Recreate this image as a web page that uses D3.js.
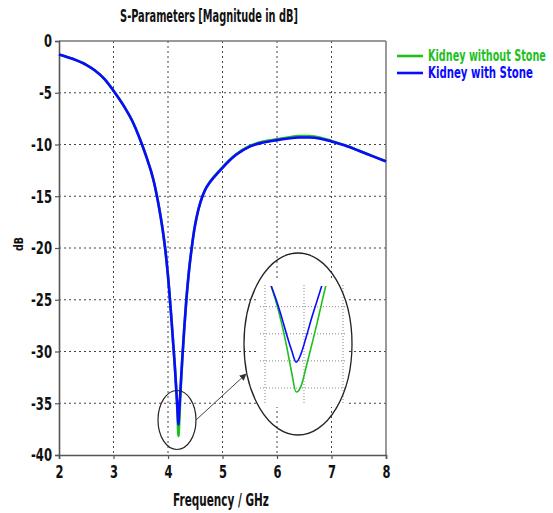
<!DOCTYPE html>
<html>
<head>
<meta charset="utf-8">
<script src="https://cdn.jsdelivr.net/npm/d3@7"></script>
<style>
  html, body { margin: 0; padding: 0; background: #fff; }
  svg { display: block; }
  text { font-family: "Liberation Sans Narrow", "DejaVu Sans Condensed", "Roboto", sans-serif; font-weight: bold; }
</style>
</head>
<body>
<svg id="chart" width="553" height="513"></svg>
<script>
// ---------------- data ----------------
const freq = [2.0, 2.25, 2.5, 2.66, 2.84, 3.0, 3.18, 3.36, 3.45, 3.53, 3.61, 3.69, 3.745, 3.79, 3.84, 3.89, 3.93, 3.97,
  4.0, 4.03, 4.065, 4.095, 4.125,
  4.158, 4.165, 4.172, 4.178, 4.184, 4.19, 4.196, 4.203, 4.21, 4.216, 4.222,
  4.235, 4.265, 4.30, 4.335, 4.385, 4.435, 4.48, 4.53, 4.60, 4.68, 4.77, 4.87, 5.0, 5.12, 5.25, 5.5, 5.75,
  6.0, 6.2, 6.4, 6.6, 6.8, 7.0, 7.25, 7.5, 7.75, 8.0];
const withoutStone = [-1.3, -1.72, -2.3, -2.85, -3.7, -4.8, -6.2, -7.9, -9.0, -10.1, -11.3, -12.6, -13.7, -14.8, -16.2, -17.8, -19.3, -21.1,
  -22.7, -24.6, -27.0, -29.2, -31.4,
  -34.24, -34.9, -35.7, -36.5, -37.4, -38.15, -37.95, -37.2, -36.4, -35.7, -34.95,
  -33.4, -30.6, -27.7, -25.1, -22.2, -20.0, -18.3, -16.9, -15.5, -14.4, -13.6, -12.95, -12.2, -11.55, -10.95, -10.15, -9.72,
  -9.5, -9.32, -9.18, -9.19, -9.35, -9.65, -10.07, -10.58, -11.1, -11.62];
const withStone = [-1.3, -1.72, -2.3, -2.85, -3.7, -4.8, -6.2, -7.9, -9.0, -10.1, -11.3, -12.6, -13.7, -14.8, -16.2, -17.8, -19.3, -21.1,
  -22.7, -24.6, -27.0, -29.2, -31.4,
  -34.24, -34.8, -35.45, -36.05, -36.6, -37.05, -36.75, -36.1, -35.4, -34.85, -34.3,
  -33.1, -30.4, -27.6, -25.1, -22.2, -20.0, -18.3, -16.9, -15.5, -14.4, -13.65, -13.0, -12.25, -11.6, -11.0, -10.2, -9.8,
  -9.58, -9.42, -9.32, -9.33, -9.45, -9.7, -10.1, -10.6, -11.12, -11.63];
const seriesNames = ["Kidney without Stone", "Kidney with Stone"];
const seriesColors = ["#1fbf1f", "#0a0aff"];
const xTicks = [2, 3, 4, 5, 6, 7, 8];
const xTickLabels = ["2", "3", "4", "5", "6", "7", "8"];
const yTicks = [0, -5, -10, -15, -20, -25, -30, -35, -40];
const yTickLabels = ["0", "-5", "-10", "-15", "-20", "-25", "-30", "-35", "-40"];
const insetXTicks = [4.15, 4.2, 4.25];
const insetYTicks = [-35, -36, -37, -38];
const titleText = "S-Parameters [Magnitude in dB]";
const xTitle = "Frequency / GHz";
const yTitle = "dB";

// ---------------- layout ----------------
const svg = d3.select("#chart");
const L = 59, R = 386, T = 41, B = 455;
const x = d3.scaleLinear().domain([2, 8]).range([L, R]);
const y = d3.scaleLinear().domain([-40, 0]).range([B, T]);

const series = [
  { name: seriesNames[0], color: seriesColors[0], values: withoutStone },
  { name: seriesNames[1], color: seriesColors[1], values: withStone }
];

// condense a text horizontally to a target width (reference font is very condensed)
function fitWidth(sel, w) {
  sel.each(function (d, i) {
    const target = typeof w === "function" ? w(d, i, this) : w;
    const n = this.getComputedTextLength();
    if (n > 0) {
      const prev = this.getAttribute("transform") || "";
      this.setAttribute("transform", prev + ` scale(${(target / n).toFixed(4)},1)`);
    }
  });
}
const labelLen = s => s.split("").reduce((a, c) => a + (c === "-" ? 5 : 8), 0);

// grid
const grid = svg.append("g").attr("stroke", "#444").attr("stroke-width", 1).attr("stroke-dasharray", "2,3");
grid.selectAll("line.v").data(xTicks.slice(1, -1)).join("line")
  .attr("x1", d => x(d)).attr("x2", d => x(d)).attr("y1", T).attr("y2", B);
grid.selectAll("line.h").data(yTicks.slice(1, -1)).join("line")
  .attr("x1", L).attr("x2", R).attr("y1", d => y(d)).attr("y2", d => y(d));

// frame top/right
svg.append("line").attr("x1", L).attr("x2", R).attr("y1", T).attr("y2", T).attr("stroke", "#777").attr("stroke-width", 1.5);
svg.append("line").attr("x1", R).attr("x2", R).attr("y1", T).attr("y2", B).attr("stroke", "#777").attr("stroke-width", 1.5);

// axes
const yAxis = d3.axisLeft(y).tickValues(yTicks).tickFormat((d, i) => yTickLabels[i]).tickSize(4).tickPadding(3);
const gy = svg.append("g").attr("transform", `translate(${L},0)`).call(yAxis);
const xAxis = d3.axisBottom(x).tickValues(xTicks).tickFormat((d, i) => xTickLabels[i]).tickSize(4).tickPadding(8);
const gx = svg.append("g").attr("transform", `translate(0,${B})`).call(xAxis);
[gx, gy].forEach(g => {
  g.select(".domain").attr("stroke", "#555").attr("stroke-width", 1.6);
  g.selectAll(".tick line").attr("stroke", "#555").attr("stroke-width", 1.2);
  g.selectAll(".tick text").attr("fill", "#111").style("font-size", "18px")
    .attr("textLength", function () { return labelLen(this.textContent); })
    .attr("lengthAdjust", "spacingAndGlyphs");
});
gx.selectAll(".tick text").attr("dy", "0.62em");

// lines
const line = d3.line().x((d, i) => x(freq[i])).y(d => y(d)).curve(d3.curveMonotoneX);
svg.append("g").selectAll("path").data(series).join("path")
  .attr("d", d => line(d.values)).attr("fill", "none")
  .attr("stroke", d => d.color).attr("stroke-width", 2.6).attr("stroke-linejoin", "round");

// small ellipse
svg.append("ellipse").attr("cx", 177).attr("cy", 420).attr("rx", 19).attr("ry", 29.5)
  .attr("fill", "none").attr("stroke", "#222").attr("stroke-width", 1.2);

// arrow
svg.append("defs").append("marker").attr("id", "arr").attr("viewBox", "0 0 10 10")
  .attr("refX", 9).attr("refY", 5).attr("markerWidth", 7).attr("markerHeight", 7).attr("orient", "auto")
  .append("path").attr("d", "M0,0 L10,5 L0,10 z").attr("fill", "#333");
svg.append("line").attr("x1", 196).attr("y1", 420).attr("x2", 246).attr("y2", 374)
  .attr("stroke", "#444").attr("stroke-width", 1).attr("marker-end", "url(#arr)");

// inset
const IL = 258, IR = 347, IT = 281, IB = 407;
const ix = d3.scaleLinear().domain([4.15, 4.25]).range([265, 343]);
const iy = d3.scaleLinear().domain([-35, -38]).range([306.7, 388]);
svg.append("rect").attr("x", IL).attr("y", IT).attr("width", IR - IL).attr("height", IB - IT).attr("fill", "#fff");
const ig = svg.append("g").attr("stroke", "#888").attr("stroke-width", 1).attr("stroke-dasharray", "1,2");
ig.selectAll("line.v").data(insetXTicks).join("line")
  .attr("x1", d => ix(d)).attr("x2", d => ix(d)).attr("y1", IT + 4).attr("y2", IB - 2);
ig.selectAll("line.h").data(insetYTicks).join("line")
  .attr("x1", IL + 2).attr("x2", IR).attr("y1", d => iy(d)).attr("y2", d => iy(d));
svg.append("clipPath").attr("id", "iclip").append("rect")
  .attr("x", IL).attr("y", 286).attr("width", IR - IL).attr("height", IB - 286);
const iline = d3.line().x((d, i) => ix(freq[i])).y(d => iy(d)).curve(d3.curveMonotoneX);
svg.append("g").attr("clip-path", "url(#iclip)").selectAll("path").data(series).join("path")
  .attr("d", d => iline(d.values)).attr("fill", "none")
  .attr("stroke", d => d.color).attr("stroke-width", 1.6);

// big ellipse
svg.append("ellipse").attr("cx", 298).attr("cy", 344).attr("rx", 54).attr("ry", 91)
  .attr("fill", "none").attr("stroke", "#222").attr("stroke-width", 1.3);

// titles
const tTitle = svg.append("g").attr("transform", "translate(209,22)").append("text")
  .attr("text-anchor", "middle").style("font-size", "18px").attr("fill", "#111").text(titleText);
fitWidth(tTitle, 178);
const tX = svg.append("g").attr("transform", "translate(221,506)").append("text")
  .attr("text-anchor", "middle").style("font-size", "17px").attr("fill", "#111").text(xTitle);
fitWidth(tX, 96);
const tY = svg.append("g").attr("transform", "translate(23,244) rotate(-90)").append("text")
  .attr("text-anchor", "middle").style("font-size", "13px").attr("fill", "#111").text(yTitle);
fitWidth(tY, 14);

// legend
const legendLens = [118, 105];
const lg = svg.append("g").selectAll("g").data(series).join("g")
  .attr("transform", (d, i) => `translate(397,${56 + i * 17})`);
lg.append("line").attr("x1", 0).attr("x2", 26).attr("y1", 0).attr("y2", 0)
  .attr("stroke", d => d.color).attr("stroke-width", 2.6);
const lt = lg.append("g").attr("transform", "translate(31,5)").append("text")
  .attr("fill", d => d.color).style("font-size", "15px").text(d => d.name);
fitWidth(lt, (d, i) => legendLens[i]);
</script>
</body>
</html>
